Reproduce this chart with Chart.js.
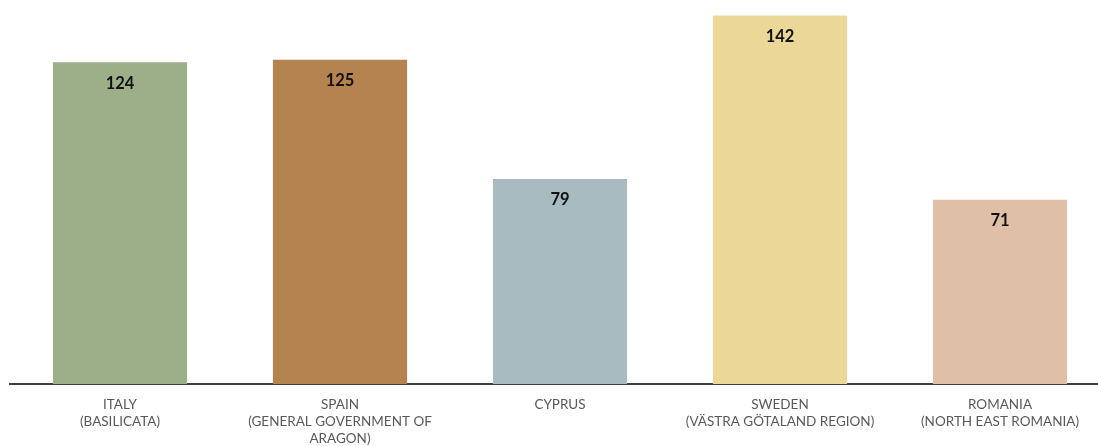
<!DOCTYPE html>
<html>
<head>
<meta charset="utf-8">
<script src="https://cdn.jsdelivr.net/npm/chart.js@4"></script>
<style>
  html, body { margin: 0; padding: 0; background: #fff; overflow: hidden; }
  #wrap { width: 1110px; height: 446px; position: relative; }
</style>
</head>
<body>
<div id="wrap"><canvas id="regions"></canvas></div>
<script>
// categories (multi-line tick labels)
var categories = [
    ['ITALY', '(BASILICATA)'],
    ['SPAIN', '(GENERAL GOVERNMENT OF', 'ARAGON)'],
    ['CYPRUS'],
    ['SWEDEN', '(VÄSTRA GÖTALAND REGION)'],
    ['ROMANIA', '(NORTH EAST ROMANIA)']
];
var values = [124, 125, 79, 142, 71];
var barColors = ['#9CAF88', '#B5834F', '#A7BBC1', '#EBD798', '#DFBFA6'];

// value labels drawn just inside the top of each bar
var valueLabels = {
    id: 'valueLabels',
    afterDatasetsDraw: function (chart) {
        var ctx = chart.ctx;
        var meta = chart.getDatasetMeta(0);
        ctx.save();
        ctx.font = 'bold 16.5px Lato, "Open Sans", sans-serif';
        ctx.fillStyle = '#111';
        ctx.textAlign = 'center';
        ctx.textBaseline = 'middle';
        meta.data.forEach(function (bar, i) {
            ctx.fillText(values[i], bar.x, bar.y + 21);
        });
        ctx.restore();
    }
};

var mychart = new Chart(document.getElementById('regions'), {
    type: 'bar',
    data: {
        labels: categories,
        datasets: [{
            data: values,
            backgroundColor: barColors,
            borderWidth: 0,
            barPercentage: 0.61,
            categoryPercentage: 1.0
        }]
    },
    options: {
        responsive: true,
        maintainAspectRatio: false,
        animation: false,
        layout: { padding: { left: 10, right: 0, top: 0, bottom: 0 } },
        plugins: {
            legend: { display: false },
            tooltip: { enabled: false }
        },
        scales: {
            x: {
                grid: { display: false },
                border: { display: true, color: '#404040', width: 2 },
                ticks: {
                    color: '#595959',
                    font: { family: 'Lato, "Open Sans", sans-serif', size: 13.5, lineHeight: 1.26 },
                    padding: 4,
                    maxRotation: 0,
                    autoSkip: false
                },
                afterFit: function (scale) { scale.height = 62; }
            },
            y: {
                display: false,
                min: 0,
                max: 148
            }
        }
    },
    plugins: [valueLabels]
});
</script>
</body>
</html>
